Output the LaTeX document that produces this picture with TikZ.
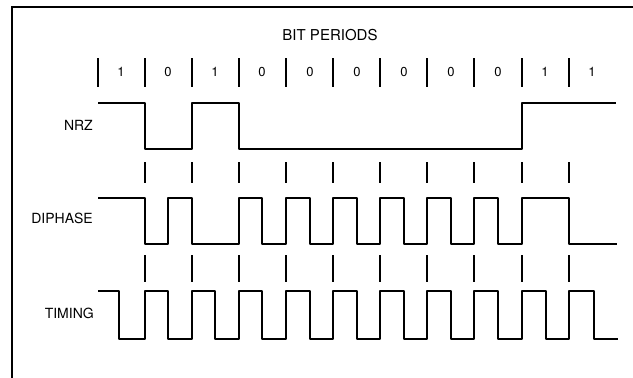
\documentclass[tikz,border=0pt]{standalone}
\usepackage{fontspec}
\setmainfont{TeX Gyre Heros}
\usepackage{tikz}

\tikzset{
  wave/.style={line width=2.6pt, line join=round},
  tick/.style={line width=1.4pt},
  lbl/.style={font=\fontsize{14}{16}\selectfont, anchor=east, inner sep=0pt},
  bitlbl/.style={font=\fontsize{13}{15}\selectfont, inner sep=0pt}
}

\begin{document}
\begin{tikzpicture}[x=1pt, y=-1pt]
\useasboundingbox (0, 0) rectangle (633, 378);
\draw[line width=2.4pt] (12, 378) -- (12, 7) -- (633, 7);
\node[font=\fontsize{15}{17}\selectfont, inner sep=0pt] (title) at (330, 35) {BIT PERIODS};

% bit period marks and values
\draw[tick] (98, 58) -- (98, 87) (145, 58) -- (145, 87) (192, 58) -- (192, 87)
  (239, 58) -- (239, 87) (286, 58) -- (286, 87) (333, 58) -- (333, 87)
  (380, 58) -- (380, 87) (427, 58) -- (427, 87) (474, 58) -- (474, 87)
  (522, 58) -- (522, 87) (569, 58) -- (569, 87);
\node[bitlbl] (b1) at (121, 72) {1};
\node[bitlbl] (b2) at (168, 72) {0};
\node[bitlbl] (b3) at (215, 72) {1};
\node[bitlbl] (b4) at (262, 72) {0};
\node[bitlbl] (b5) at (310, 72) {0};
\node[bitlbl] (b6) at (357, 72) {0};
\node[bitlbl] (b7) at (404, 72) {0};
\node[bitlbl] (b8) at (451, 72) {0};
\node[bitlbl] (b9) at (498, 72) {0};
\node[bitlbl] (b10) at (545, 72) {1};
\node[bitlbl] (b11) at (592, 72) {1};

% NRZ
\node[lbl] (nrz) at (93, 125) {NRZ};
\draw[wave] (98, 103) -- (145, 103) -- (145, 149) -- (192, 149) -- (192, 103)
  -- (239, 103) -- (239, 149) -- (522, 149) -- (522, 103) -- (616, 103);

\draw[tick] (145, 162) -- (145, 183) (192, 162) -- (192, 183) (239, 162) -- (239, 183)
  (286, 162) -- (286, 183) (333, 162) -- (333, 183) (380, 162) -- (380, 183)
  (427, 162) -- (427, 183) (474, 162) -- (474, 183) (522, 162) -- (522, 183)
  (569, 162) -- (569, 183);

% DIPHASE
\node[lbl] (diphase) at (93, 218) {DIPHASE};
\draw[wave] (98, 198) -- (145, 198) -- (145, 244) -- (168, 244) -- (168, 198)
  -- (192, 198) -- (192, 244) -- (239, 244) -- (239, 198) -- (262, 198)
  -- (262, 244) -- (286, 244) -- (286, 198) -- (310, 198) -- (310, 244)
  -- (333, 244) -- (333, 198) -- (357, 198) -- (357, 244) -- (380, 244)
  -- (380, 198) -- (404, 198) -- (404, 244) -- (427, 244) -- (427, 198)
  -- (451, 198) -- (451, 244) -- (474, 244) -- (474, 198) -- (498, 198)
  -- (498, 244) -- (522, 244) -- (522, 198) -- (569, 198) -- (569, 244)
  -- (617, 244);

\draw[tick] (145, 255) -- (145, 282) (192, 255) -- (192, 282) (239, 255) -- (239, 282)
  (286, 255) -- (286, 282) (333, 255) -- (333, 282) (380, 255) -- (380, 282)
  (427, 255) -- (427, 282) (474, 255) -- (474, 282) (522, 255) -- (522, 282)
  (569, 255) -- (569, 282);

% TIMING
\node[lbl] (timing) at (94, 313) {TIMING};
\draw[wave] (98, 291) -- (119, 291) -- (119, 339) -- (145, 339) -- (145, 291)
  -- (168, 291) -- (168, 339) -- (192, 339) -- (192, 291) -- (215, 291)
  -- (215, 339) -- (239, 339) -- (239, 291) -- (262, 291) -- (262, 339)
  -- (286, 339) -- (286, 291) -- (310, 291) -- (310, 339) -- (333, 339)
  -- (333, 291) -- (357, 291) -- (357, 339) -- (380, 339) -- (380, 291)
  -- (404, 291) -- (404, 339) -- (427, 339) -- (427, 291) -- (451, 291)
  -- (451, 339) -- (474, 339) -- (474, 291) -- (498, 291) -- (498, 339)
  -- (522, 339) -- (522, 291) -- (546, 291) -- (546, 339) -- (569, 339)
  -- (569, 291) -- (594, 291) -- (594, 339) -- (618, 339);
\end{tikzpicture}
\end{document}
